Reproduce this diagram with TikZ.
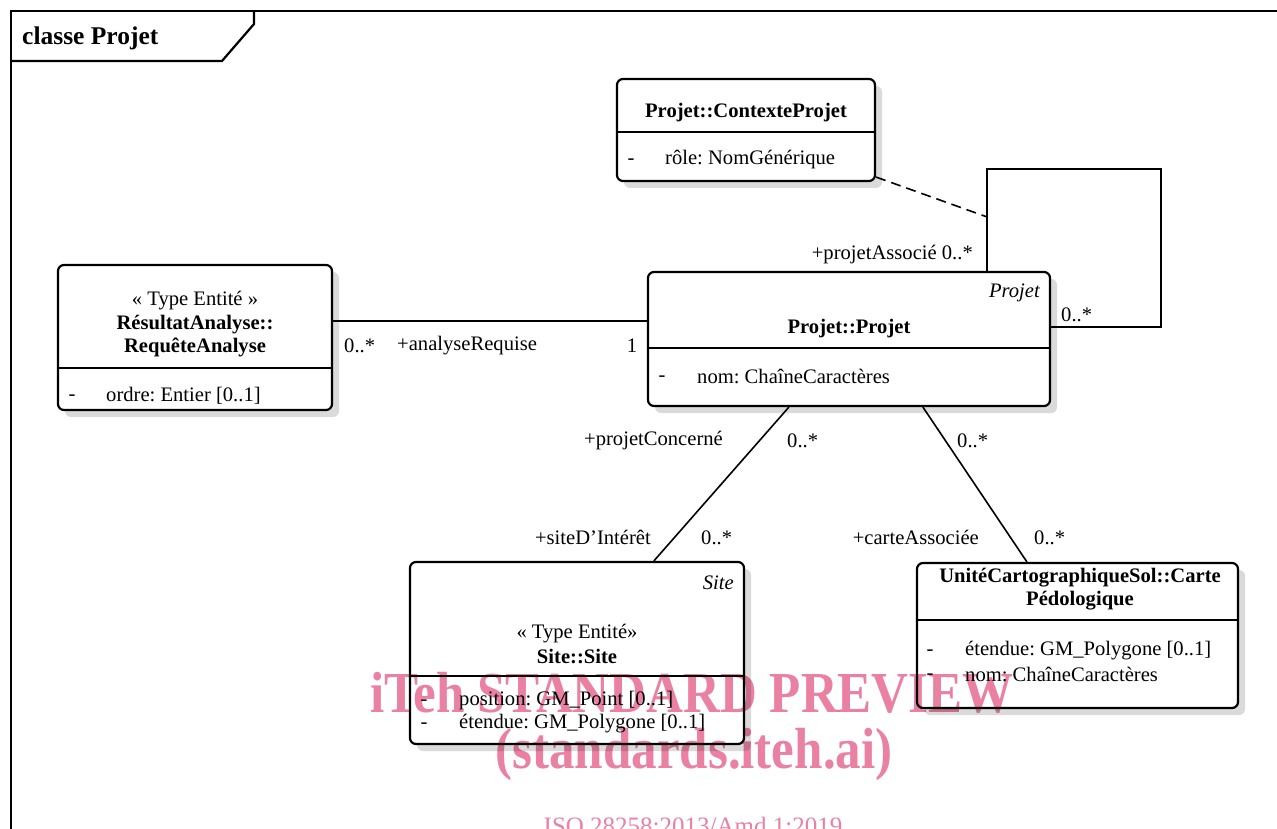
\documentclass[tikz,border=0pt]{standalone}
\usepackage{fontspec}
\setmainfont{Liberation Serif}
\usetikzlibrary{shadows,calc}
\definecolor{wm}{RGB}{234,128,162}
\definecolor{shd}{RGB}{218,218,218}
\newcommand{\dashmark}{\vphantom{Chq[}-}
\tikzset{
  umlbox/.style={draw, line width=2.2pt, rounded corners=6pt, fill=white, inner sep=0pt,
    drop shadow={shadow xshift=7pt, shadow yshift=-7pt, fill=shd, opacity=1}},
  txt/.style={inner sep=0pt, yshift=-2.5pt, font=\fontsize{20.6}{23}\selectfont\frenchspacing},
  btxt/.style={inner sep=0pt, yshift=-2.5pt, font=\fontsize{20.6}{23}\selectfont\bfseries\frenchspacing},
  itxt/.style={inner sep=0pt, yshift=-2.5pt, font=\fontsize{20.6}{23}\selectfont\itshape},
  assoc/.style={line width=1.6pt},
  divider/.style={line width=1.6pt},
  framel/.style={line width=2.2pt},
  wmtxt/.style={inner sep=0pt, text=wm, anchor=base},
}
\begin{document}
\begin{tikzpicture}[x=1pt,y=-1pt]
\useasboundingbox (0,0) rectangle (1277,829);
\clip (0,0) rectangle (1277,829);

% frame
\draw[framel] (1290,11) -- (11,11) -- (11,845);
\draw[framel] (11,61) -- (222,61) -- (254,24) -- (254,11);
\node[inner sep=0pt, anchor=west, font=\fontsize{25.5}{28}\selectfont\bfseries] (title) at (22,38) {classe Projet};

% boxes
\node[umlbox, minimum width=258pt, minimum height=102pt] (ctx) at (746,130) {};
\node[umlbox, minimum width=402pt, minimum height=134pt] (projet) at (849,339) {};
\node[umlbox, minimum width=274pt, minimum height=145pt] (req) at (195,337.5) {};
\node[umlbox, minimum width=334pt, minimum height=182pt] (site) at (577,653) {};
\node[umlbox, minimum width=321pt, minimum height=145pt] (carte) at (1077.5,635.5) {};

% dividers
\draw[divider] ([yshift=-54pt]ctx.north west) -- ([yshift=-54pt]ctx.north east);
\draw[divider] ([yshift=-77pt]projet.north west) -- ([yshift=-77pt]projet.north east);
\draw[divider] ([yshift=-104pt]req.north west) -- ([yshift=-104pt]req.north east);
\draw[divider] ([yshift=-115pt]site.north west) -- ([yshift=-115pt]site.north east);
\draw[divider] ([yshift=-58pt]carte.north west) -- ([yshift=-58pt]carte.north east);

% ContexteProjet texts
\node[btxt] (ctxname) at (746,110) {Projet::ContexteProjet};
\node[txt] (ctxm) at (631,157) {\dashmark};
\node[txt, anchor=west] (ctxa) at (665,157) {rôle: NomGénérique};

% Projet texts
\node[itxt, anchor=east] (pst) at (1040,290) {Projet};
\node[btxt] (pname) at (849,326) {Projet::Projet};
\node[txt] (pm) at (662,374) {\dashmark};
\node[txt, anchor=west] (pa) at (697,374) {nom: ChaîneCaractères};

% Requete texts
\node[txt] (rst) at (195,298) {« Type Entité »};
\node[btxt] (rn1) at (195,322) {RésultatAnalyse::};
\node[btxt] (rn2) at (195,345) {RequêteAnalyse};
\node[txt] (rm) at (72,393) {\dashmark};
\node[txt, anchor=west] (ra) at (106,393) {ordre: Entier [0..1]};

% Site texts
\node[itxt, anchor=east] (sst) at (734,580) {Site};
\node[txt] (sty) at (577,631) {« Type Entité»};
\node[btxt] (sname) at (577,654) {Site::Site};
\node[txt] (sm1) at (424,698) {\dashmark};
\node[txt, anchor=west] (sa1) at (459,698) {position: GM\_Point [0..1]};
\node[txt] (sm2) at (424,721) {\dashmark};
\node[txt, anchor=west] (sa2) at (459,721) {étendue: GM\_Polygone [0..1]};

% Carte texts
\node[btxt] (cn1) at (1080,575) {UnitéCartographiqueSol::Carte};
\node[btxt] (cn2) at (1080,598) {Pédologique};
\node[txt] (cm1) at (930,648) {\dashmark};
\node[txt, anchor=west] (ca1) at (965,648) {étendue: GM\_Polygone [0..1]};
\node[txt] (cm2) at (930,672) {\dashmark};
\node[txt, anchor=west] (ca2) at (965,672) {nom: ChaîneCaractères};

% associations
\draw[assoc] ([yshift=16.5pt]req.east) -- ([yshift=16.5pt]req.east -| projet.west);
\draw[assoc] ([xshift=142pt]projet.south west) -- ([xshift=245pt]site.north west);
\draw[assoc] ([xshift=276pt]projet.south west) -- ([xshift=111pt]carte.north west);
\path ([xshift=340pt]projet.north west) coordinate (la)
      ++(0,-54) coordinate (ld)
      ++(0,-48) coordinate (lb);
\draw[assoc] (la) -- (lb) -| ([xshift=110pt,yshift=-56pt]projet.north east) -- ([yshift=-56pt]projet.north east);
\draw[assoc, dash pattern=on 10pt off 6pt] ([yshift=5pt]ctx.south east) -- (ld);

% labels
\node[txt, anchor=east] (l1) at (973,252) {+projetAssocié 0..*};
\node[txt, anchor=west] (l2) at (1061,312) {0..*};
\node[txt, anchor=west] (l3) at (344,343) {0..*};
\node[txt, anchor=west] (l4) at (397,343) {+analyseRequise};
\node[txt] (l5) at (632,343) {1};
\node[txt, anchor=east] (l6) at (723,438) {+projetConcerné};
\node[txt, anchor=west] (l7) at (787,438) {0..*};
\node[txt, anchor=west] (l8) at (957,438) {0..*};
\node[txt, anchor=east] (l9) at (651,535) {+siteD’Intérêt};
\node[txt, anchor=west] (l10) at (701,535) {0..*};
\node[txt, anchor=east] (l11) at (979,535) {+carteAssociée};
\node[txt, anchor=west] (l12) at (1034,535) {0..*};

% watermark
\begin{scope}[blend mode=multiply]
\node[wmtxt, font=\fontsize{58}{58}\selectfont\bfseries] (wm1) at (692,712) {\scalebox{0.88}[1]{iTeh STANDARD PREVIEW}};
\node[wmtxt, font=\fontsize{58}{58}\selectfont\bfseries] (wm2) at (694,768) {\scalebox{0.88}[1]{(standards.iteh.ai)}};
\node[wmtxt, font=\fontsize{25}{25}\selectfont] (wm3) at (693,834) {ISO 28258:2013/Amd 1:2019};
\end{scope}
\end{tikzpicture}
\end{document}
